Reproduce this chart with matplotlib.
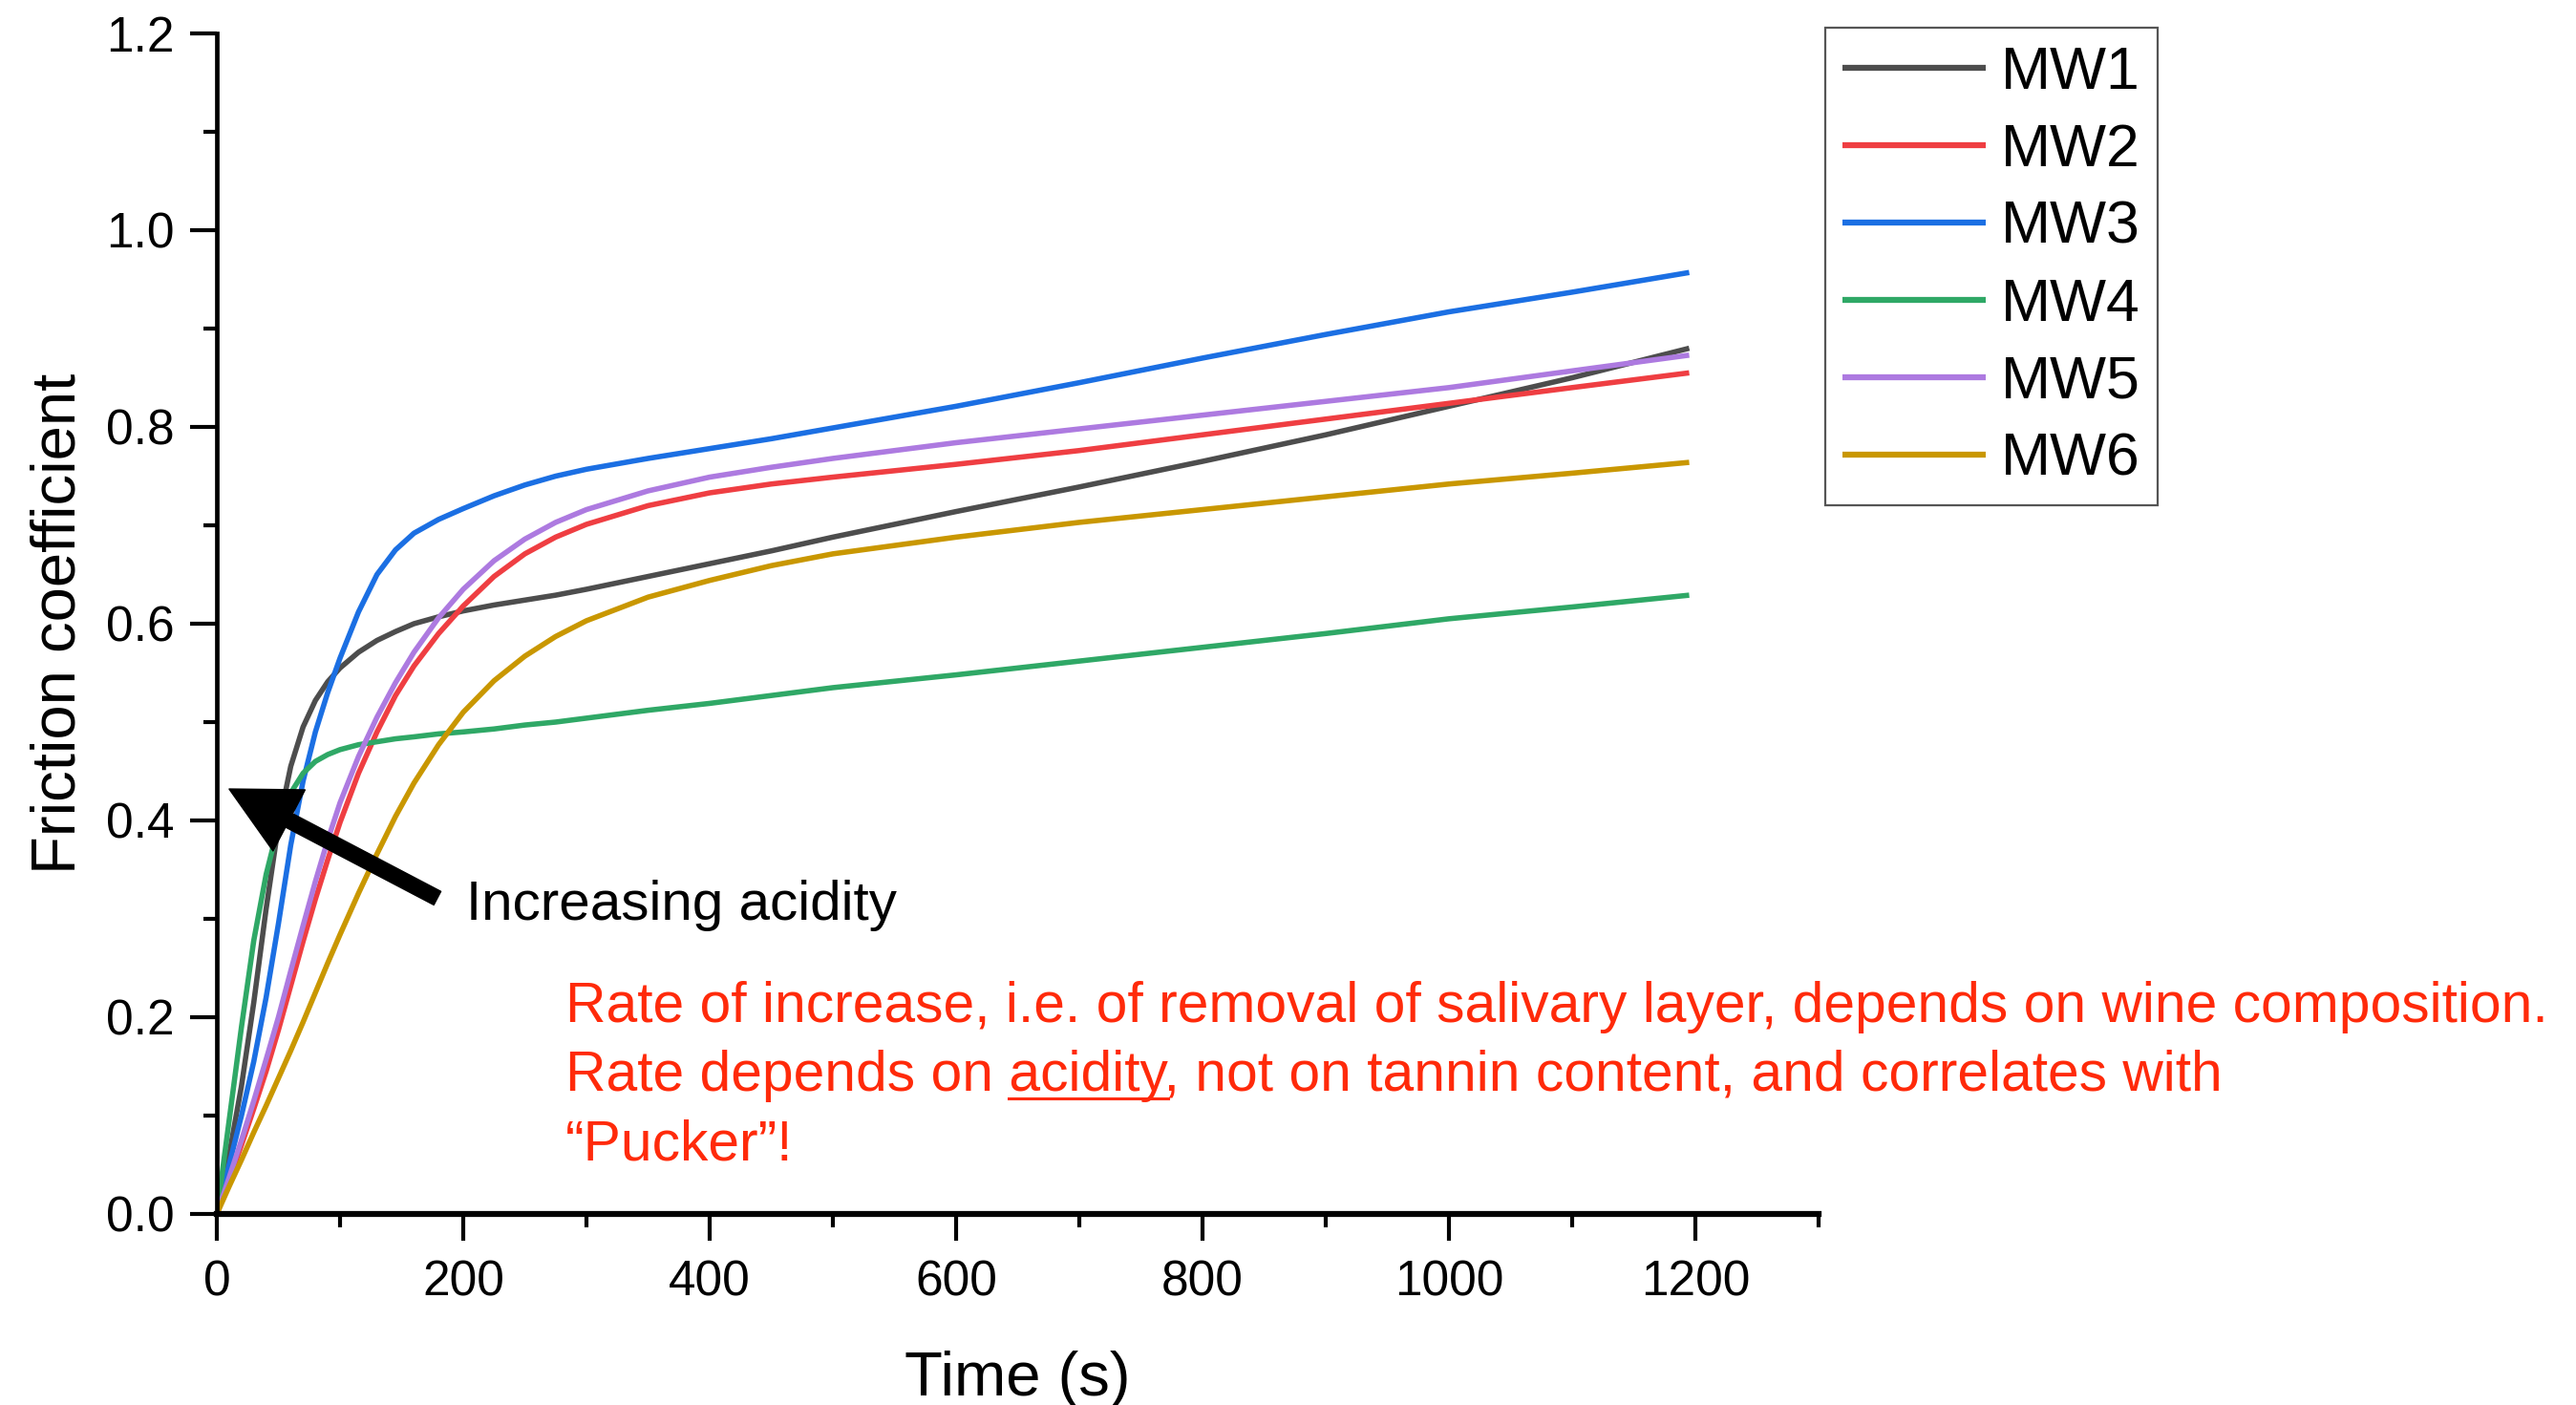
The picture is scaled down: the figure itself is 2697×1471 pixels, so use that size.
import matplotlib
matplotlib.use('Agg')
import matplotlib.pyplot as plt
from matplotlib.ticker import MultipleLocator
from matplotlib.lines import Line2D

plt.rcParams['font.family'] = ['Liberation Sans', 'DejaVu Sans']

# ---------------- data ----------------
time_s = [0, 10, 20, 30, 40, 50, 60, 70, 80, 90, 100, 115, 130, 145, 160, 180, 200,
          225, 250, 275, 300, 350, 400, 450, 500, 600, 700, 800, 900, 1000, 1100, 1195]

mw1 = [0.0, 0.06, 0.13, 0.215, 0.31, 0.395, 0.455, 0.495, 0.522, 0.541, 0.555, 0.571,
       0.583, 0.592, 0.600, 0.607, 0.613, 0.619, 0.624, 0.629, 0.635, 0.648, 0.661,
       0.674, 0.688, 0.714, 0.739, 0.765, 0.792, 0.821, 0.850, 0.880]
mw2 = [0.0, 0.035, 0.07, 0.107, 0.145, 0.187, 0.232, 0.277, 0.32, 0.36, 0.398, 0.448,
       0.49, 0.527, 0.557, 0.59, 0.618, 0.648, 0.671, 0.688, 0.701, 0.72, 0.733,
       0.742, 0.749, 0.762, 0.776, 0.792, 0.808, 0.824, 0.840, 0.855]
mw3 = [0.0, 0.05, 0.10, 0.155, 0.22, 0.295, 0.375, 0.44, 0.49, 0.53, 0.565, 0.612,
       0.65, 0.675, 0.692, 0.706, 0.717, 0.73, 0.741, 0.75, 0.757, 0.768, 0.778,
       0.788, 0.799, 0.821, 0.845, 0.870, 0.894, 0.917, 0.937, 0.957]
mw4 = [0.0, 0.095, 0.19, 0.278, 0.345, 0.395, 0.428, 0.448, 0.46, 0.467, 0.472, 0.477,
       0.48, 0.483, 0.485, 0.488, 0.490, 0.493, 0.497, 0.5, 0.504, 0.512, 0.519,
       0.527, 0.535, 0.548, 0.562, 0.576, 0.590, 0.605, 0.617, 0.629]
mw5 = [0.0, 0.037, 0.075, 0.115, 0.157, 0.2, 0.247, 0.293, 0.338, 0.38, 0.418, 0.465,
       0.505, 0.54, 0.571, 0.606, 0.635, 0.664, 0.686, 0.703, 0.716, 0.735, 0.749,
       0.759, 0.768, 0.784, 0.798, 0.812, 0.826, 0.840, 0.857, 0.873]
mw6 = [0.0, 0.028, 0.055, 0.083, 0.11, 0.138, 0.166, 0.195, 0.225, 0.255, 0.284, 0.326,
       0.366, 0.404, 0.438, 0.477, 0.51, 0.542, 0.567, 0.587, 0.603, 0.627, 0.644,
       0.659, 0.671, 0.688, 0.703, 0.716, 0.729, 0.742, 0.753, 0.764]

series_names = ['MW1', 'MW2', 'MW3', 'MW4', 'MW5', 'MW6']
series_values = [mw1, mw2, mw3, mw4, mw5, mw6]
series_colors = ['#4d4d4d', '#ef3e42', '#1b6fe3', '#2fa866', '#ad7ae0', '#c99700']

x_ticks = [0, 200, 400, 600, 800, 1000, 1200]
y_ticks = [0.0, 0.2, 0.4, 0.6, 0.8, 1.0, 1.2]

arrow_text = 'Increasing acidity'
note_line1 = 'Rate of increase, i.e. of removal of salivary layer, depends on wine composition.'
note_line2 = 'Rate depends on acidity, not on tannin content, and correlates with'
note_line3 = '\u201cPucker\u201d!'
underlined_word = 'acidity'
note_color = '#ff2a0a'

# ---------------- figure ----------------
W, H = 2697, 1471
fig = plt.figure(figsize=(W / 100, H / 100), dpi=100)
ax = fig.add_axes([227 / W, 200 / H, (1904 - 227) / W, (1436 - 200) / H])

for name, vals, col in zip(series_names, series_values, series_colors):
    ax.plot(time_s, vals, color=col, lw=4.0, label=name, solid_capstyle='butt',
            solid_joinstyle='round')

ax.set_xlim(0, 1300)
ax.set_ylim(0, 1.2)
ax.set_xticks(x_ticks)
ax.set_xticklabels([str(v) for v in x_ticks])
ax.set_yticks(y_ticks)
ax.set_yticklabels([f'{v:.1f}' for v in y_ticks])
ax.xaxis.set_minor_locator(MultipleLocator(100))
ax.yaxis.set_minor_locator(MultipleLocator(0.1))

for s in ['top', 'right']:
    ax.spines[s].set_visible(False)
ax.spines['left'].set_linewidth(3.4)
ax.spines['bottom'].set_linewidth(4.5)

ax.tick_params(axis='both', which='major', length=20, width=3, labelsize=37,
               pad=12, direction='out', colors='black')
ax.tick_params(axis='x', which='major', pad=14)
ax.tick_params(axis='both', which='minor', length=10, width=3, direction='out')

ax.set_xlabel('Time (s)', fontsize=47, labelpad=34)
ax.set_ylabel('Friction coefficient', fontsize=47, labelpad=14)

# legend outside on the right
leg = fig.legend(loc='upper left', bbox_to_anchor=(1911 / W, 1 - 29 / H),
                 bbox_transform=fig.transFigure, fontsize=45, frameon=True,
                 fancybox=False, edgecolor='#555555', framealpha=1,
                 borderpad=0.29, labelspacing=0.35, handlelength=2.4,
                 handletextpad=0.25, borderaxespad=0)
leg.get_frame().set_linewidth(1.6)
for ln in leg.get_lines():
    ln.set_linewidth(4.5)

# arrow annotation
ax.annotate('', xy=(10, 0.432), xytext=(179, 0.321), xycoords='data',
            arrowprops=dict(width=11.5, headwidth=52, headlength=51,
                            color='black', shrink=0), annotation_clip=False)
ax.text(202, 0.314, arrow_text, fontsize=42, ha='left', va='center', color='black')

# red notes
x0 = 283
fs_note = 42.3
ax.text(x0, 0.195, note_line1, fontsize=fs_note, color=note_color, ha='left', va='baseline')
ax.text(x0, 0.125, note_line2, fontsize=fs_note, color=note_color, ha='left', va='baseline')
ax.text(x0, 0.055, note_line3, fontsize=fs_note, color=note_color, ha='left', va='baseline')

# underline the word 'acidity'
fig.canvas.draw()
renderer = fig.canvas.get_renderer()
prefix = note_line2[:note_line2.index(underlined_word) + len(underlined_word)]
tmp1 = ax.text(x0, 0.125, prefix, fontsize=fs_note, ha='left', va='baseline')
tmp2 = ax.text(x0, 0.125, underlined_word, fontsize=fs_note, ha='left', va='baseline')
bb1 = tmp1.get_window_extent(renderer)
bb2 = tmp2.get_window_extent(renderer)
tmp1.remove()
tmp2.remove()
x_end = bb1.x0 + bb1.width
x_start = x_end - bb2.width
base_disp = ax.transData.transform((x0, 0.125))[1]
y_line = base_disp - 8
inv = fig.transFigure.inverted()
p1 = inv.transform((x_start, y_line))
p2 = inv.transform((x_end, y_line))
fig.add_artist(Line2D([p1[0], p2[0]], [p1[1], p2[1]], transform=fig.transFigure,
                      color=note_color, lw=2.2))

fig.savefig('out.png', dpi=100)
